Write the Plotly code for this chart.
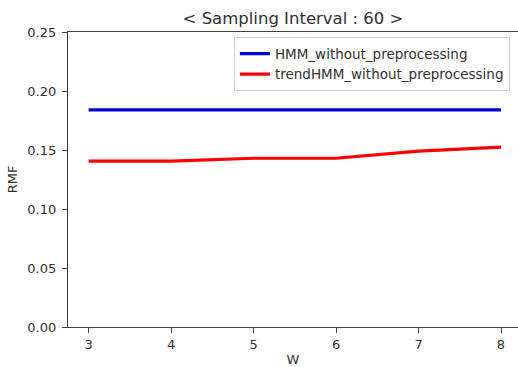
import plotly.graph_objects as go

w_values = [3, 4, 5, 6, 7, 8]
hmm_rmf = [0.184, 0.184, 0.184, 0.184, 0.184, 0.184]
trend_hmm_rmf = [0.1405, 0.1405, 0.143, 0.143, 0.149, 0.1525]
y_ticks = [0.00, 0.05, 0.10, 0.15, 0.20, 0.25]

fig = go.Figure()
fig.add_trace(go.Scatter(x=w_values, y=hmm_rmf, mode="lines",
                         name="HMM_without_preprocessing",
                         line=dict(color="#0000d0", width=3.2)))
fig.add_trace(go.Scatter(x=w_values, y=trend_hmm_rmf, mode="lines",
                         name="trendHMM_without_preprocessing",
                         line=dict(color="#ff0000", width=3.2)))

font = "DejaVu Sans, sans-serif"
fig.update_layout(
    width=518, height=367,
    margin=dict(l=68, r=0, t=32, b=40),
    plot_bgcolor="white", paper_bgcolor="white",
    font=dict(family=font, size=13, color="#303030"),
    title=dict(text="< Sampling Interval : 60 >", x=0.5, xref="paper",
               y=1 - 18.5 / 367, yanchor="middle",
               font=dict(family=font, size=16.5, color="#303030")),
    legend=dict(x=0.982, y=0.982, xanchor="right", yanchor="top",
                bgcolor="white", bordercolor="#d4d4d4", borderwidth=1,
                font=dict(family=font, size=13.5, color="#303030"),
                itemwidth=30, tracegroupgap=0),
    showlegend=True,
)
fig.update_xaxes(range=[2.75, 8.206], tickmode="array", tickvals=w_values,
                 showgrid=False, zeroline=False, showline=True,
                 linecolor="#404040", linewidth=1.3, mirror=True,
                 ticks="outside", ticklen=5, tickcolor="#404040",
                 title=dict(text="W", standoff=5, font=dict(size=13)))
fig.update_yaxes(range=[0, 0.25], tickmode="array", tickvals=y_ticks,
                 tickformat=".2f", showgrid=False, zeroline=False,
                 showline=True, linecolor="#404040", linewidth=1.3,
                 ticks="outside", ticklen=5, tickcolor="#404040",
                 ticklabelstandoff=3,
                 title=dict(text="RMF", standoff=6, font=dict(size=13)))

fig.write_html("out.html")
